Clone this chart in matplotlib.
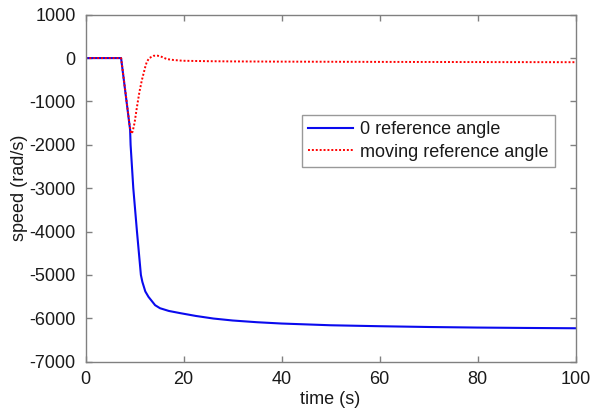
import matplotlib
matplotlib.use("Agg")
import matplotlib.pyplot as plt

# Data
t_zero = [0, 7.26, 9.1, 9.2, 9.75, 10.5, 11.3, 11.6, 12.2, 12.85, 14.2, 15.2, 17.0,
          19.3, 22.5, 26.1, 30, 35, 40, 50, 60, 70, 80, 90, 100]
v_zero = [0, 0, -1656, -2000, -3000, -4000, -5000, -5160, -5380, -5505, -5697, -5767, -5830,
          -5880, -5945, -6005, -6050, -6090, -6120, -6160, -6182, -6200, -6213, -6222, -6229]

t_moving = [0, 7.26, 8.2, 9.0, 9.3, 9.6, 10.0, 10.5, 11.0, 11.5, 12.2, 12.5, 13.0, 13.9,
            14.7, 15.5, 16.6, 18, 19.9, 25, 30, 40, 60, 80, 100]
v_moving = [0, 0, -830, -1550, -1740, -1700, -1500, -1124, -780, -508, -200, -90, 0, 53,
            55, 30, -23, -45, -62, -72, -77, -82, -88, -92, -95]

labels = ["0 reference angle", "moving reference angle"]
x_ticks = [0, 20, 40, 60, 80, 100]
y_ticks = [-7000, -6000, -5000, -4000, -3000, -2000, -1000, 0, 1000]

plt.rcParams['font.family'] = ['Liberation Sans', 'DejaVu Sans']
plt.rcParams['axes.unicode_minus'] = False

W, H = 597, 412
fig = plt.figure(figsize=(W / 100, H / 100), dpi=100)
ax = fig.add_axes([85.5 / W, 1 - 361.7 / H, (575.7 - 85.5) / W, (361.7 - 14.7) / H])

ax.plot(t_zero, v_zero, color='#0a0aee', lw=1.5, label=labels[0])
ax.plot(t_moving, v_moving, color='#ff0000', lw=1.4, ls=(0, (1, 1)), label=labels[1])

ax.set_xlim(0, 100)
ax.set_ylim(-7000, 1000)
ax.set_xticks(x_ticks)
ax.set_yticks(y_ticks)

grey = '#808080'
for s in ax.spines.values():
    s.set_color(grey)
    s.set_linewidth(1.0)
ax.tick_params(direction='in', length=4, width=1.0, color=grey, labelsize=13,
               labelcolor='#1a1a1a', top=True, right=True, pad=7)

ax.set_xlabel('time (s)', fontsize=13, color='#1a1a1a', labelpad=2)
ax.set_ylabel('speed (rad/s)', fontsize=13, color='#1a1a1a', labelpad=1)

leg = ax.legend(loc='upper right', bbox_to_anchor=(555 / W, 1 - 115 / H),
                bbox_transform=fig.transFigure, fontsize=13, frameon=True, fancybox=False,
                shadow=False, borderaxespad=0, borderpad=0.35, handlelength=2.5,
                handletextpad=0.4, labelspacing=0.3)
leg.get_frame().set_edgecolor(grey)
leg.get_frame().set_linewidth(1.0)
for txt in leg.get_texts():
    txt.set_color('#1a1a1a')

fig.savefig('out.png', dpi=100)
